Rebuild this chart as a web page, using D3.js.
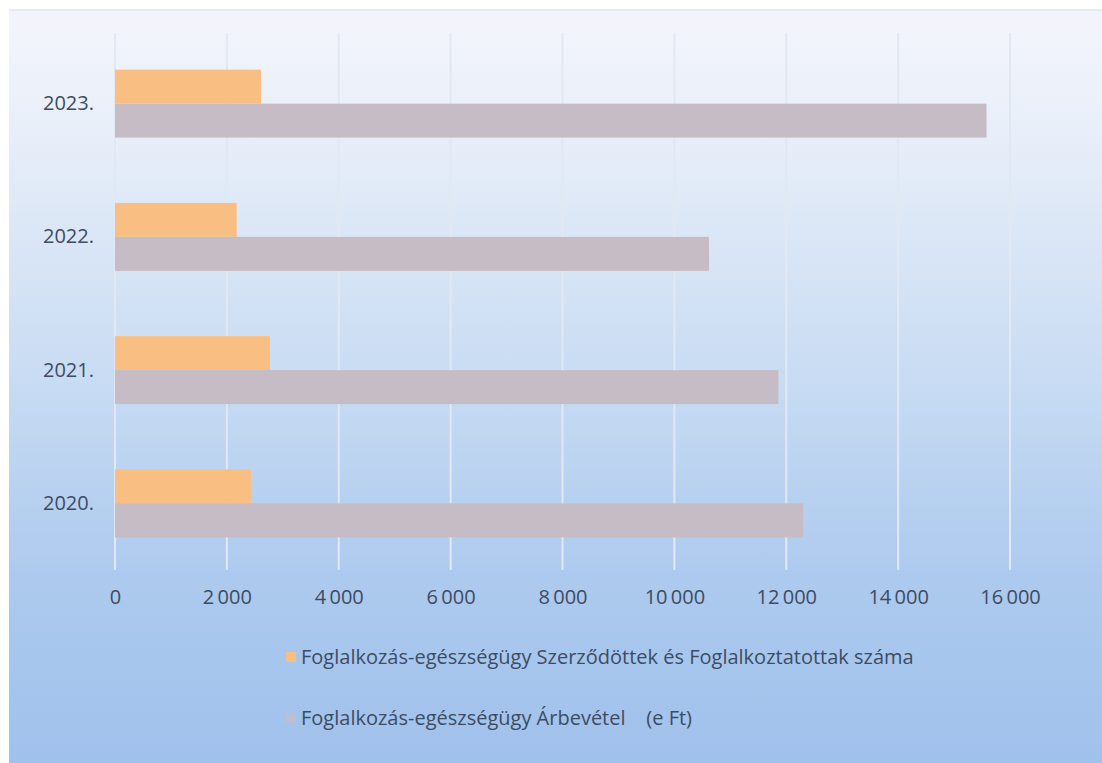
<!DOCTYPE html>
<html>
<head>
<meta charset="utf-8">
<script src="https://cdn.jsdelivr.net/npm/d3@7"></script>
<style>
  html, body { margin: 0; padding: 0; background: #ffffff; }
  svg { display: block; }
  text { font-family: "Open Sans", "Noto Sans", sans-serif; fill: #3d4c63; }
</style>
</head>
<body>
<svg id="chart" width="1102" height="763"></svg>
<script>
// Years, shown top to bottom
const years = ["2023.", "2022.", "2021.", "2020."];
// Number of contracted / employed persons
const contracted = [2610, 2175, 2770, 2430];
// Revenue (thousand Ft)
const revenue = [15580, 10620, 11860, 12300];
const xTicks = [0, 2000, 4000, 6000, 8000, 10000, 12000, 14000, 16000];
const seriesNames = [
  "Foglalkozás-egészségügy Szerződöttek és Foglalkoztatottak száma",
  "Foglalkozás-egészségügy Árbevétel    (e Ft)"
];
const seriesColors = ["#f9bf82", "#c5bcc6"];

const svg = d3.select("#chart");
const W = 1102, H = 763;

// Chart area background: pale at the top fading to light blue at the bottom
const defs = svg.append("defs");
const grad = defs.append("linearGradient")
  .attr("id", "bg").attr("x1", 0).attr("y1", 0).attr("x2", 0).attr("y2", 1);
grad.append("stop").attr("offset", "0%").attr("stop-color", "#f3f5fb");
grad.append("stop").attr("offset", "15%").attr("stop-color", "#e9eff9");
grad.append("stop").attr("offset", "45%").attr("stop-color", "#ccdef4");
grad.append("stop").attr("offset", "75%").attr("stop-color", "#adcaee");
grad.append("stop").attr("offset", "100%").attr("stop-color", "#a0c1ec");

svg.append("rect")
  .attr("x", 9).attr("y", 10).attr("width", W - 9).attr("height", H - 10)
  .attr("fill", "url(#bg)");
svg.append("line")
  .attr("x1", 9).attr("x2", W).attr("y1", 10).attr("y2", 10)
  .attr("stroke", "#e3e6ea").attr("stroke-width", 1.5);

const plot = { left: 115, right: 1010, top: 37, bottom: 570 };

const x = d3.scaleLinear().domain([0, 16000]).range([plot.left, plot.right]);
const y = d3.scaleBand().domain(years).range([plot.top, plot.bottom])
  .paddingInner(0.49).paddingOuter(0.245);
const ySub = d3.scaleBand().domain([0, 1]).range([0, y.bandwidth()]);

// Vertical gridlines
svg.append("g").selectAll("line").data(xTicks).join("line")
  .attr("x1", d => x(d)).attr("x2", d => x(d))
  .attr("y1", 33).attr("y2", plot.bottom)
  .attr("stroke", "#e2e8f2").attr("stroke-width", 2);

// Bars
const rows = years.map((yr, i) => ({ yr, vals: [contracted[i], revenue[i]] }));
const groups = svg.append("g").selectAll("g").data(rows).join("g")
  .attr("transform", d => `translate(0,${y(d.yr)})`);
groups.selectAll("rect").data(d => d.vals.map((v, k) => ({ v, k }))).join("rect")
  .attr("x", x(0))
  .attr("y", d => ySub(d.k))
  .attr("width", d => x(d.v) - x(0))
  .attr("height", ySub.bandwidth())
  .attr("fill", d => seriesColors[d.k]);

// Category axis labels
const yAxis = d3.axisLeft(y).tickSize(0).tickPadding(0);
const gy = svg.append("g").attr("transform", `translate(${plot.left - 21},0)`).call(yAxis);
gy.select(".domain").remove();
gy.selectAll("text")
  .style("font-size", "20px").attr("fill", "#3d4c63");

// Value axis labels
const xAxis = d3.axisBottom(x).tickValues(xTicks).tickSize(0).tickPadding(0)
  .tickFormat(d => d3.format(",")(d).replace(/,/g, "\u2009"));
const gx = svg.append("g").attr("transform", `translate(0,${plot.bottom + 20})`).call(xAxis);
gx.select(".domain").remove();
gx.selectAll("text").style("font-size", "20px").attr("fill", "#3d4c63");

// Legend
const legendY = [657, 718];
const lg = svg.append("g").selectAll("g").data(seriesNames).join("g")
  .attr("transform", (d, i) => `translate(286,${legendY[i]})`);
lg.append("rect").attr("x", 0).attr("y", -5).attr("width", 10).attr("height", 10)
  .attr("fill", (d, i) => i === 0 ? seriesColors[0] : "#c9bcc8")
  .attr("opacity", (d, i) => i === 0 ? 1 : 0.6);
lg.append("text")
  .attr("x", 15).attr("dy", "0.35em")
  .style("font-size", "20px")
  .style("white-space", "pre")
  .text(d => d);
</script>
</body>
</html>
